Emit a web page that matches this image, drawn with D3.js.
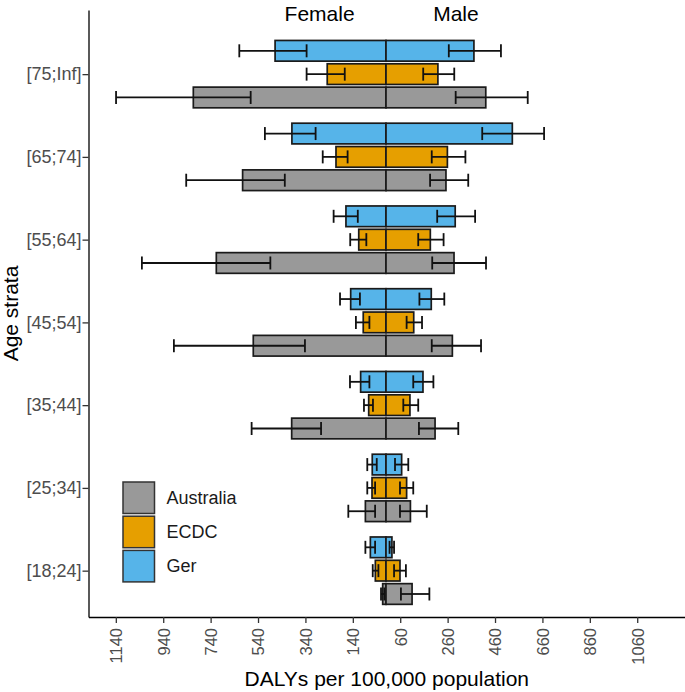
<!DOCTYPE html>
<html>
<head>
<meta charset="utf-8">
<script src="https://cdn.jsdelivr.net/npm/d3@7"></script>
<style>
  html, body { margin: 0; padding: 0; background: #fff; }
  svg { display: block; font-family: "Liberation Sans", Arial, sans-serif; }
</style>
</head>
<body>
<svg id="chart" width="685" height="692"></svg>
<script>
// ---------- data ----------
const ageStrata = ["[18;24]", "[25;34]", "[35;44]", "[45;54]", "[55;64]", "[65;74]", "[75;Inf]"];
const sources = ["Ger", "ECDC", "Australia"];           // top-to-bottom inside each stratum
const legendOrder = ["Australia", "ECDC", "Ger"];
const sourceColors = ["#56B4E9", "#E69F00", "#999999"];

// values per age stratum (order of ageStrata), DALYs per 100,000
const gerFemale     = [66, 58, 107, 149, 169, 397, 468];
const gerFemaleLo   = [46, 39, 70, 110, 119, 297, 335];
const gerFemaleHi   = [87, 79, 152, 194, 221, 511, 619];
const gerMale       = [25, 66, 156, 191, 292, 533, 371];
const gerMaleLo     = [15, 38, 115, 141, 216, 406, 265];
const gerMaleHi     = [34, 94, 200, 246, 376, 667, 485];

const ecdcFemale    = [45, 59, 73, 96, 115, 211, 248];
const ecdcFemaleLo  = [32, 46, 55, 70, 83, 162, 174];
const ecdcFemaleHi  = [56, 79, 93, 127, 151, 267, 335];
const ecdcMale      = [59, 87, 101, 117, 187, 259, 219];
const ecdcMaleLo    = [34, 59, 73, 87, 136, 193, 157];
const ecdcMaleHi    = [84, 115, 136, 152, 243, 335, 288];

const ausFemale     = [14, 87, 398, 560, 716, 605, 813];
const ausFemaleLo   = [7, 46, 274, 342, 488, 427, 571];
const ausFemaleHi   = [21, 159, 567, 895, 1030, 843, 1139];
const ausMale       = [110, 103, 207, 280, 287, 253, 421];
const ausMaleLo     = [63, 59, 139, 193, 195, 186, 294];
const ausMaleHi     = [183, 172, 305, 401, 422, 347, 598];

const xTickValues = [-1140, -940, -740, -540, -340, -140, 60, 260, 460, 660, 860, 1060];
const xTickLabels = ["1140", "940", "740", "540", "340", "140", "60", "260", "460", "660", "860", "1060"];

const sexLabels = ["Female", "Male"];
const sexLabelX = [-280, 295];

// ---------- build table ----------
const seriesTable = {
  Ger:       { f: gerFemale,  fLo: gerFemaleLo,  fHi: gerFemaleHi,  m: gerMale,  mLo: gerMaleLo,  mHi: gerMaleHi },
  ECDC:      { f: ecdcFemale, fLo: ecdcFemaleLo, fHi: ecdcFemaleHi, m: ecdcMale, mLo: ecdcMaleLo, mHi: ecdcMaleHi },
  Australia: { f: ausFemale,  fLo: ausFemaleLo,  fHi: ausFemaleHi,  m: ausMale,  mLo: ausMaleLo,  mHi: ausMaleHi }
};
const rows = [];
sources.forEach((s, si) => {
  ageStrata.forEach((a, ai) => {
    const t = seriesTable[s];
    rows.push({ src: s, si, ai, sex: "F", v0: -t.f[ai], lo: -t.fLo[ai], hi: -t.fHi[ai] });
    rows.push({ src: s, si, ai, sex: "M", v0:  t.m[ai], lo:  t.mLo[ai], hi:  t.mHi[ai] });
  });
});

// ---------- layout ----------
const svg = d3.select("#chart");
const panelLeft = 88.5, panelRight = 685, panelTop = 10, panelBottom = 617;
const pxPerUnit = 0.237, zeroPx = 386;

const x = d3.scaleLinear()
  .domain([(panelLeft - zeroPx) / pxPerUnit, (panelRight - zeroPx) / pxPerUnit])
  .range([panelLeft, panelRight]);
const y = d3.scaleLinear().domain([-0.56, 6.775]).range([panelBottom, panelTop]);
const color = d3.scaleOrdinal().domain(sources).range(sourceColors);

const dodge = 0.282;      // category units between sources
const barH = 0.25;        // bar thickness in category units
const unitPx = Math.abs(y(1) - y(0));
const yCenter = d => y(d.ai) + (d.si - 1) * dodge * unitPx;

// bars
svg.append("g").selectAll("rect").data(rows).join("rect")
  .attr("x", d => Math.min(x(0), x(d.v0)))
  .attr("width", d => Math.abs(x(d.v0) - x(0)))
  .attr("y", d => yCenter(d) - barH * unitPx / 2)
  .attr("height", barH * unitPx)
  .attr("fill", d => color(d.src))
  .attr("stroke", "#1a1a1a")
  .attr("stroke-width", 1.7);

// error bars
const capH = 13;
const eb = svg.append("g").attr("stroke", "#111").attr("stroke-width", 1.8).attr("fill", "none");
rows.forEach(d => {
  const yc = yCenter(d);
  eb.append("line").attr("x1", x(d.lo)).attr("x2", x(d.hi)).attr("y1", yc).attr("y2", yc);
  eb.append("line").attr("x1", x(d.lo)).attr("x2", x(d.lo)).attr("y1", yc - capH / 2).attr("y2", yc + capH / 2);
  eb.append("line").attr("x1", x(d.hi)).attr("x2", x(d.hi)).attr("y1", yc - capH / 2).attr("y2", yc + capH / 2);
});

// x axis
const xAxis = svg.append("g").attr("transform", `translate(0,${panelBottom})`)
  .call(d3.axisBottom(x).tickValues(xTickValues)
    .tickFormat((d, i) => xTickLabels[i]).tickSize(6).tickSizeOuter(0));
xAxis.select(".domain").attr("stroke", "#000").attr("stroke-width", 1.3);
xAxis.selectAll(".tick line").attr("stroke", "#333").attr("stroke-width", 1.3);
xAxis.selectAll(".tick text")
  .attr("font-size", 16.5).attr("fill", "#4d4d4d")
  .attr("font-family", "Liberation Sans, Arial, sans-serif")
  .attr("transform", "rotate(-90)")
  .attr("text-anchor", "end")
  .attr("x", -11).attr("y", 0).attr("dy", "0.35em");

// y axis
const yAxis = svg.append("g").attr("transform", `translate(${panelLeft},0)`)
  .call(d3.axisLeft(y).tickValues(d3.range(ageStrata.length))
    .tickFormat(i => ageStrata[i]).tickSize(6).tickSizeOuter(0));
yAxis.select(".domain").attr("stroke", "#000").attr("stroke-width", 1.3);
yAxis.selectAll(".tick line").attr("stroke", "#333").attr("stroke-width", 1.3);
yAxis.selectAll(".tick text")
  .attr("font-size", 18).attr("fill", "#4d4d4d")
  .attr("font-family", "Liberation Sans, Arial, sans-serif")
  .attr("x", -7);

// axis titles
svg.append("text").attr("x", (panelLeft + panelRight) / 2).attr("y", 686)
  .attr("text-anchor", "middle").attr("font-size", 21).attr("fill", "#000")
  .text("DALYs per 100,000 population");
svg.append("text").attr("transform", `translate(18,${(panelTop + panelBottom) / 2}) rotate(-90)`)
  .attr("text-anchor", "middle").attr("font-size", 21).attr("fill", "#000")
  .text("Age strata");

// Female / Male annotations
svg.append("g").selectAll("text").data(sexLabels).join("text")
  .attr("x", (d, i) => x(sexLabelX[i]))
  .attr("y", 21)
  .attr("text-anchor", "middle").attr("font-size", 21).attr("fill", "#000")
  .text(d => d);

// legend
const lg = svg.append("g").attr("transform", "translate(123,482)");
const keySize = 31.5, keyStep = 34.2;
legendOrder.forEach((s, i) => {
  lg.append("rect").attr("x", 0).attr("y", i * keyStep).attr("width", keySize).attr("height", keySize)
    .attr("fill", color(s)).attr("stroke", "#333").attr("stroke-width", 1.5);
  lg.append("text").attr("x", keySize + 12).attr("y", i * keyStep + keySize / 2)
    .attr("dy", "0.35em").attr("font-size", 18).attr("fill", "#1a1a1a").text(s);
});
</script>
</body>
</html>
